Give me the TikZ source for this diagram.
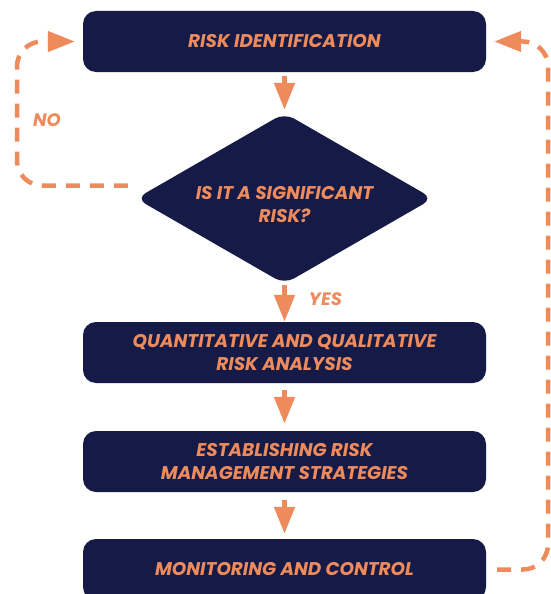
\documentclass[tikz,border=0pt]{standalone}
\usepackage{fontspec}
\setmainfont{Poppins}
\usetikzlibrary{shapes.geometric,arrows.meta}

\definecolor{navy}{RGB}{21,27,70}
\definecolor{accent}{RGB}{238,139,93}

\tikzset{
  boxfont/.style={font=\fontsize{18.4}{23.5}\selectfont\bfseries\itshape},
  stepbox/.style={rectangle, rounded corners=13pt, fill=navy,
    minimum width=403pt, minimum height=61pt, inner sep=0pt,
    align=center, text=accent, boxfont},
  decision/.style={diamond, fill=navy, minimum width=297pt,
    minimum height=171pt, inner sep=0pt, rounded corners=11pt},
  qtext/.style={align=center, text=accent, boxfont},
  flow/.style={draw=accent, line width=5pt,
    -{Triangle[length=27pt,width=20pt]}},
  loopback/.style={draw=accent, line width=4.5pt,
    dash pattern=on 14pt off 10pt,
    -{Triangle[length=27pt,width=20pt]}},
  tag/.style={text=accent, font=\fontsize{18}{20}\selectfont\bfseries\itshape}
}

\begin{document}
\begin{tikzpicture}[x=1pt,y=-1pt]
  \useasboundingbox (0,0) rectangle (551,594);

  % process steps
  \node[stepbox] (ident) at (284.5,41.5) {RISK IDENTIFICATION};
  \node[decision] (q) at (284.5,198.5) {};
  \node[qtext] (qt) at (284.5,204.5) {IS IT A SIGNIFICANT\\RISK?};
  \node[stepbox] (anal) at (284.5,352.5) {QUANTITATIVE AND QUALITATIVE\\RISK ANALYSIS};
  \node[stepbox] (strat) at (284.5,461.5) {ESTABLISHING RISK\\MANAGEMENT STRATEGIES};
  \node[stepbox] (mon) at (284.5,569.5) {MONITORING AND CONTROL};

  % main flow
  \draw[flow, shorten <=4pt, shorten >=3pt] (ident.south) -- (q.north);
  \draw[flow, shorten <=1pt] (q.south) -- (anal.north);
  \draw[flow, shorten <=7pt, shorten >=7pt] (anal.south) -- (strat.north);
  \draw[flow, shorten <=8pt, shorten >=5pt] (strat.south) -- (mon.north);

  % return lines: wide lower bends, tight upper bends
  \coordinate (lx) at (17,0);
  \coordinate (rx) at (548,0);
  \coordinate (nostart) at ([shift={(-8pt,13pt)}]q.west);
  \draw[loopback, rounded corners=25pt, shorten >=8pt]
    (nostart) -- (lx |- nostart) -- (lx |- ident.west)
    [rounded corners=14pt] -- (ident.west);
  \draw[loopback, rounded corners=25pt, shorten >=8pt]
    ([xshift=11pt]mon.east) -- (rx |- mon.east) -- (rx |- ident.east)
    [rounded corners=14pt] -- (ident.east);

  % branch labels
  \node[tag] (no) at (47,120) {NO};
  \node[tag] (yes) at (325.5,299) {YES};
\end{tikzpicture}
\end{document}
